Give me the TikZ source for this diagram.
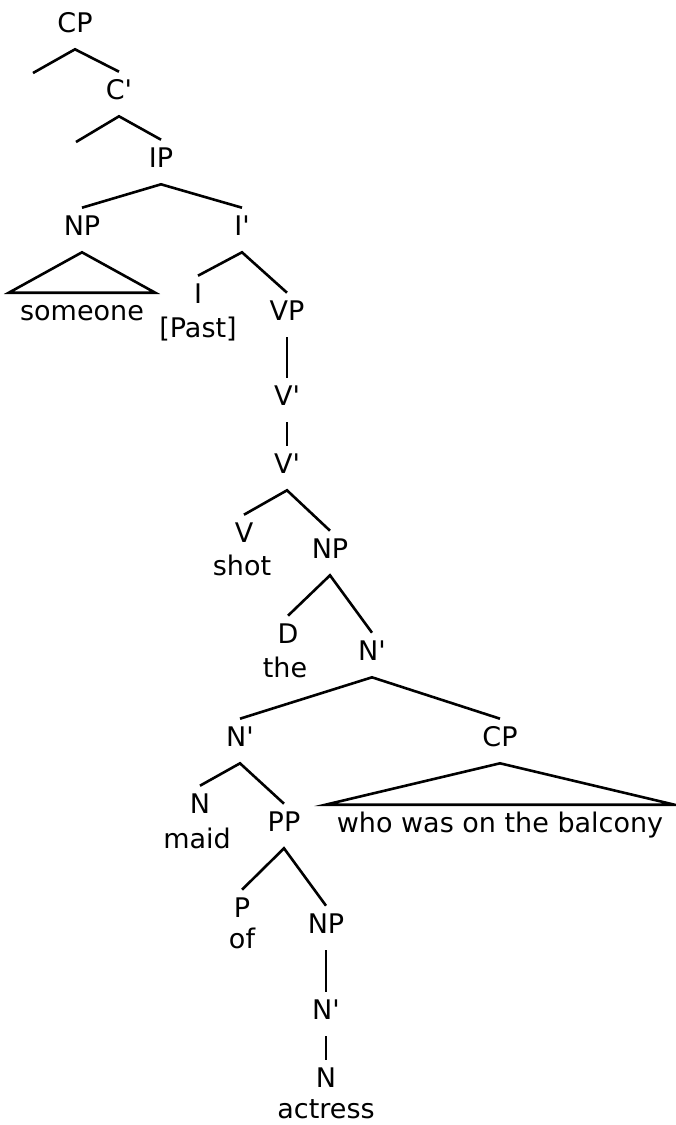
\documentclass[tikz,border=0pt]{standalone}
\usepackage{fontspec}
\setmainfont{DejaVu Sans}[Ligatures=TeXOff]
\begin{document}
\begin{tikzpicture}[x=1pt, y=-1pt, line width=2.6pt,
                        cat/.style={
                        font=\fontsize{27}{32}\selectfont,
                        anchor=base,
                        text height=20pt,
                        text depth=10pt,
                        inner xsep=2pt,
                        inner ysep=6pt},
                        word/.style={cat, inner xsep=10pt}]
                        \useasboundingbox (0,0) rectangle (676,1125);
                        \node [cat] (cp0) at (75,32) {CP};
                        \coordinate (cpl) at (33,73);
                        \node [cat] (cbar) at (119,99) {C'};
                        \coordinate (cbarl) at (76,142);
                        \node [cat] (ip) at (161,167) {IP};
                        \node [cat] (np1) at (82,235) {NP};
                        \node [cat] (ibar) at (242,235) {I'};
                        \node [word] (someone) at (82,320) {someone};
                        \node [cat] (i) at (198,303) {I};
                        \node [word] (past) at (198,337) {[Past]};
                        \node [cat] (vp) at (287,320) {VP};
                        \node [cat] (vbar1) at (287,405) {V'};
                        \node [cat] (vbar2) at (287,473) {V'};
                        \node [cat] (v) at (244,542) {V};
                        \node [word] (shot) at (242,575) {shot};
                        \node [cat] (np2) at (330,558) {NP};
                        \node [cat] (d) at (288,643) {D};
                        \node [word] (the) at (285,677) {the};
                        \node [cat] (nbar1) at (372,660) {N'};
                        \node [cat] (nbar2) at (240,746) {N'};
                        \node [cat] (cp1) at (500,746) {CP};
                        \node [word] (who) at (500,832) {who was on the balcony};
                        \node [cat] (n1) at (200,813) {N};
                        \node [word] (maid) at (197,848) {maid};
                        \node [cat] (pp) at (284,831) {PP};
                        \node [cat] (p) at (242,917) {P};
                        \node [word] (of) at (242,948) {of};
                        \node [cat] (np3) at (326,933) {NP};
                        \node [cat] (nbar3) at (326,1019) {N'};
                        \node [cat] (n2) at (326,1087) {N};
                        \node [word] (actress) at (326,1118) {actress};
                        \draw (cpl) -- (cp0.south) -- (cbar.north);
                        \draw (cbarl) -- (cbar.south) -- (ip.north);
                        \draw (np1.north) -- (ip.south) -- (ibar.north);
                        \draw (someone.north west) -- (np1.south) -- (someone.north east) -- cycle;
                        \draw (i.north) -- (ibar.south) -- (vp.north);
                        \draw (vp.south) -- (vbar1.north);
                        \draw (vbar1.south) -- (vbar2.north);
                        \draw (v.north) -- (vbar2.south) -- (np2.north);
                        \draw (d.north) -- (np2.south) -- (nbar1.north);
                        \draw (nbar2.north) -- (nbar1.south) -- (cp1.north);
                        \draw (who.north west) -- (cp1.south) -- (who.north east) -- cycle;
                        \draw (n1.north) -- (nbar2.south) -- (pp.north);
                        \draw (p.north) -- (pp.south) -- (np3.north);
                        \draw (np3.south) -- (nbar3.north);
                        \draw (nbar3.south) -- (n2.north);
                \end{tikzpicture}
\end{document}
